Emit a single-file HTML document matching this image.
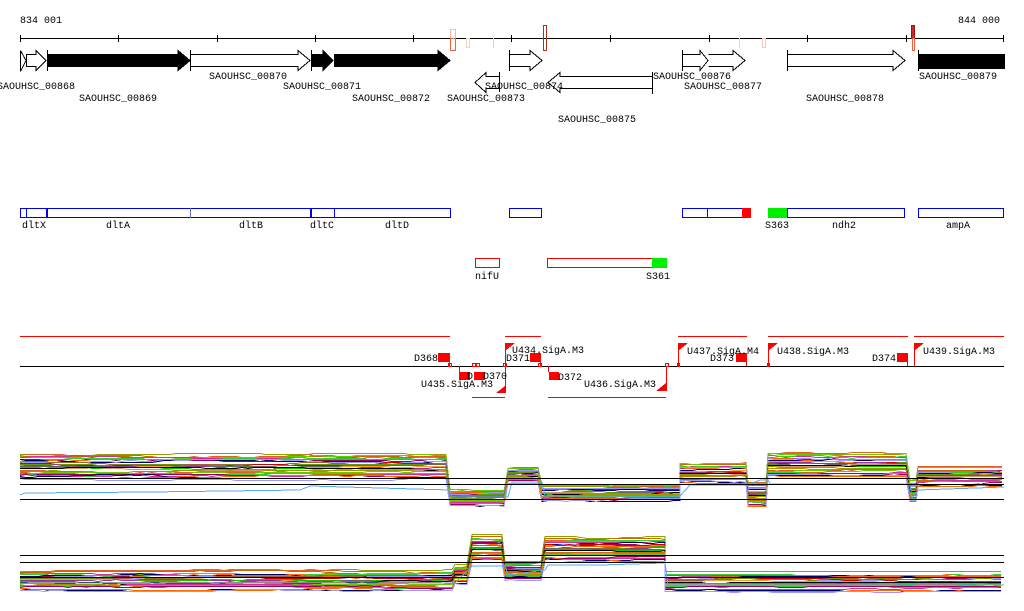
<!DOCTYPE html>
<html><head><meta charset="utf-8"><style>
html,body{margin:0;padding:0;background:#fff;width:1024px;height:611px;overflow:hidden}
svg text{font-family:"Liberation Mono",monospace;font-size:10px;fill:#000}
</style></head><body>
<svg id="s" width="1024" height="611" viewBox="0 0 1024 611" xmlns="http://www.w3.org/2000/svg" shape-rendering="crispEdges">
<rect width="1024" height="611" fill="#fff"/>
<text x="20" y="23">834 001</text>
<text x="958" y="23">844 000</text>
<line x1="20" y1="38.5" x2="1004" y2="38.5" stroke="#000"/>
<g stroke="#000">
<line x1="20.5" y1="35" x2="20.5" y2="42"/><line x1="118.5" y1="35" x2="118.5" y2="42"/><line x1="217.5" y1="35" x2="217.5" y2="42"/><line x1="315.5" y1="35" x2="315.5" y2="42"/><line x1="413.5" y1="35" x2="413.5" y2="42"/><line x1="511.5" y1="35" x2="511.5" y2="42"/><line x1="610.5" y1="35" x2="610.5" y2="42"/><line x1="709.5" y1="35" x2="709.5" y2="42"/><line x1="807.5" y1="35" x2="807.5" y2="42"/><line x1="906.5" y1="35" x2="906.5" y2="42"/><line x1="1003.5" y1="35" x2="1003.5" y2="42"/>
</g>
<g fill="none">
<rect x="450.5" y="29.5" width="5" height="21" stroke="#f7b9a8"/>
<rect x="450.5" y="38.5" width="5" height="12" stroke="#f06040"/>
<rect x="466.5" y="38.5" width="3" height="9" stroke="#f8d0c0"/>
<line x1="493.5" y1="38" x2="493.5" y2="48" stroke="#f8c8b8"/>
<rect x="543.5" y="25.5" width="3" height="25" stroke="#b03020"/>
<line x1="739.5" y1="38" x2="739.5" y2="48" stroke="#f8d0c0"/>
<rect x="762.5" y="38.5" width="3" height="9" stroke="#f8c8b8"/>
<rect x="911.5" y="25.5" width="3" height="13" stroke="#a01010" fill="#c03030"/>
<rect x="912.5" y="38.5" width="2" height="12" stroke="#f06040"/>
</g>
<g stroke="#000" fill="#fff">
<path d="M20.5 50.5 V71.5 M20.5 50.5 L26 60.5 L20.5 71.5"/>
<path d="M26.5 54.5 H36 V50.5 L46 60.5 L36 70.5 V66.5 H26.5 Z"/>
<path d="M47.5 50 V71"/>
<path d="M47.5 54.5 H178 V50.5 L190 60.5 L178 70.5 V66.5 H47.5 Z" fill="#000"/>
<path d="M190.5 50 V71"/>
<path d="M190.5 54.5 H298 V50.5 L310 60.5 L298 70.5 V66.5 H190.5 Z"/>
<path d="M311.5 50 V71"/>
<path d="M311.5 54.5 H323 V50.5 L333 60.5 L323 70.5 V66.5 H311.5 Z" fill="#000"/>
<path d="M334.5 54.5 H438 V50.5 L450 60.5 L438 70.5 V66.5 H334.5 Z" fill="#000"/>
<path d="M499.5 72 V92 M499.5 76.5 H486 V72.5 L475 82.5 L486 92.5 V88.5 H499.5"/>
<path d="M509.5 50 V71 M509.5 54.5 H530 V50.5 L542 60.5 L530 70.5 V66.5 H509.5"/>
<path d="M652.5 72 V94 M652.5 76.5 H560 V72.5 L548 82.5 L560 92.5 V88.5 H652.5"/>
<path d="M682.5 50 V71 M682.5 54.5 H700 V50.5 L708 60.5 L700 70.5 V66.5 H682.5"/>
<path d="M708.5 54.5 H733 V50.5 L745 60.5 L733 70.5 V66.5 H708.5"/>
<path d="M787.5 50 V71 M787.5 54.5 H893 V50.5 L905 60.5 L893 70.5 V66.5 H787.5"/>
<path d="M918.5 50 V71"/>
<rect x="918.5" y="54.5" width="86" height="14" fill="#000"/>
</g>
<text x="-3" y="89">SAOUHSC_00868</text>
<text x="79" y="101">SAOUHSC_00869</text>
<text x="209" y="79">SAOUHSC_00870</text>
<text x="283" y="89">SAOUHSC_00871</text>
<text x="352" y="101">SAOUHSC_00872</text>
<text x="447" y="101">SAOUHSC_00873</text>
<text x="485" y="89">SAOUHSC_00874</text>
<text x="558" y="122">SAOUHSC_00875</text>
<text x="653" y="79">SAOUHSC_00876</text>
<text x="684" y="89">SAOUHSC_00877</text>
<text x="806" y="101">SAOUHSC_00878</text>
<text x="919" y="79">SAOUHSC_00879</text>
<g fill="none" stroke="#0000ee">
<rect x="20.5" y="208.5" width="26" height="9"/><line x1="26.5" y1="208" x2="26.5" y2="218"/>
<rect x="47.5" y="208.5" width="263" height="9"/><line x1="190.5" y1="208" x2="190.5" y2="218" stroke="#6070c0"/>
<rect x="311.5" y="208.5" width="139" height="9"/><line x1="334.5" y1="208" x2="334.5" y2="218"/>
<rect x="509.5" y="208.5" width="32" height="9"/>
<rect x="682.5" y="208.5" width="60" height="9"/><line x1="707.5" y1="208" x2="707.5" y2="218"/>
<rect x="787.5" y="208.5" width="117" height="9"/>
<rect x="918.5" y="208.5" width="85" height="9"/>
</g>
<rect x="742" y="208" width="9" height="10" fill="#ff0000"/>
<rect x="768" y="208" width="19" height="10" fill="#00ee00"/>
<text x="22" y="228">dltX</text><text x="106" y="228">dltA</text><text x="239" y="228">dltB</text><text x="310" y="228">dltC</text><text x="385" y="228">dltD</text>
<text x="765" y="228">S363</text><text x="832" y="228">ndh2</text><text x="946" y="228">ampA</text>
<rect x="475.5" y="258.5" width="24" height="9" fill="none" stroke="#ee0000"/>
<rect x="547.5" y="258.5" width="105" height="9" fill="none" stroke="#ee0000"/>
<rect x="652" y="258" width="15" height="10" fill="#00ee00"/>
<text x="475" y="279">nifU</text><text x="646" y="279">S361</text>
<line x1="20" y1="366.5" x2="1004" y2="366.5" stroke="#000"/>
<g stroke="#ff0000">
<line x1="20" y1="336.5" x2="450" y2="336.5"/><line x1="505" y1="336.5" x2="541" y2="336.5"/><line x1="678" y1="336.5" x2="747" y2="336.5"/><line x1="768" y1="336.5" x2="908" y2="336.5"/><line x1="914" y1="336.5" x2="1004" y2="336.5"/>
<line x1="472" y1="397.5" x2="505" y2="397.5"/><line x1="548" y1="397.5" x2="666" y2="397.5"/>
</g>
<g fill="#ff0000" stroke="none">
<rect x="438" y="353" width="11" height="9"/><rect x="459" y="372" width="11" height="8"/><rect x="474" y="372" width="11" height="8"/>
<rect x="530" y="353" width="10" height="9"/><rect x="549" y="372" width="10" height="8"/><rect x="736" y="353" width="10" height="9"/><rect x="897" y="353" width="10" height="9"/>
<path d="M505 343 H515 L505 351Z"/><path d="M678 343 H688 L678 351Z"/><path d="M768 343 H778 L768 351Z"/><path d="M914 343 H924 L914 351Z"/>
<path d="M505 393 H496 L505 386Z"/><path d="M666 391 H656 L666 383Z"/>
<rect x="677" y="363" width="3" height="4"/><rect x="767" y="363" width="3" height="4"/>
</g>
<g stroke="#ff0000" fill="none">
<line x1="449.5" y1="353" x2="449.5" y2="366"/><line x1="459.5" y1="366" x2="459.5" y2="372"/><line x1="505.5" y1="343" x2="505.5" y2="393"/><line x1="540.5" y1="353" x2="540.5" y2="366"/><line x1="548.5" y1="366" x2="548.5" y2="372"/><line x1="666.5" y1="366" x2="666.5" y2="391"/><line x1="678.5" y1="343" x2="678.5" y2="366"/><line x1="746.5" y1="353" x2="746.5" y2="366"/><line x1="768.5" y1="343" x2="768.5" y2="366"/><line x1="907.5" y1="353" x2="907.5" y2="366"/><line x1="914.5" y1="343" x2="914.5" y2="366"/>
<rect x="448.5" y="363.5" width="3" height="3"/><rect x="472.5" y="363.5" width="3" height="3"/><rect x="476.5" y="363.5" width="3" height="3"/><rect x="503.5" y="363.5" width="3" height="3"/><rect x="538.5" y="363.5" width="3" height="3"/><rect x="665.5" y="363.5" width="3" height="3"/>
</g>
<text x="414" y="361">D368</text><text x="421" y="387">U435.SigA.M3</text><text x="467" y="379">D</text><text x="483" y="379">D370</text>
<text x="512" y="353">U434.SigA.M3</text><text x="506" y="361">D371</text><text x="558" y="380">D372</text><text x="584" y="387">U436.SigA.M3</text>
<text x="687" y="354">U437.SigA.M4</text><text x="710" y="361">D373</text><text x="777" y="354">U438.SigA.M3</text><text x="872" y="361">D374</text><text x="923" y="354">U439.SigA.M3</text>
<g id="charts" fill="none" stroke-width="1"></g>
<g stroke="#000">
<line x1="20" y1="478.5" x2="1004" y2="478.5"/><line x1="20" y1="484.5" x2="1004" y2="484.5"/><line x1="20" y1="499.5" x2="1004" y2="499.5"/>
<line x1="20" y1="555.5" x2="1004" y2="555.5"/><line x1="20" y1="562.5" x2="1004" y2="562.5"/><line x1="20" y1="577.5" x2="1004" y2="577.5"/>
</g>
</svg>
<script>
(function(){
var seed=12345;function r(){seed=(seed*1103515245+12345)&0x7fffffff;return seed/0x7fffffff;}
var pal=["#999900","#e06020","#cc6600","#66cc00","#cc3399","#33cc33","#990066","#000066","#ff6600","#9999ff","#996633","#cc0000","#669900","#ff9933","#993399","#666666","#00cc00","#cc9966","#000000","#bb8800"];
var up=[[20,450,454,478],[450,508,489,505],[508,542,467,482],[542,680,485,500],[680,748,463,482],[748,768,483,505],[768,910,453,475],[910,918,480,500],[918,1004,467,485]];
var lo=[[20,455,571,589],[455,472,566,582],[472,505,536,560],[505,545,563,578],[545,665,538,560],[665,1004,573,590]];
var g=document.getElementById("charts"),ns="http://www.w3.org/2000/svg";
function draw(segs,n){
 for(var i=0;i<n;i++){
  var t=i/(n-1),pts=[],w=0;
  var col=pal[i%pal.length];
  segs.forEach(function(s){
   for(var x=s[0];x<=s[1];x+=6){
    if(r()<0.3){w+=(r()-0.5)*2; if(w>2)w=2; if(w<-2)w=-2;}
    var y=Math.round(s[2]+t*(s[3]-s[2])+w)+0.5;
    pts.push(x+","+y);
   }
  });
  var p=document.createElementNS(ns,"polyline");
  p.setAttribute("points",pts.join(" "));p.setAttribute("stroke",col);
  g.appendChild(p);
 }
}
draw(up,30);draw(lo,30);
var b=document.createElementNS(ns,"polyline");
b.setAttribute("points","20,495 25,493 150,492 300,490 310,486 450,490 452,497 508,497 512,482 542,482 545,496 680,496 690,485 748,485 760,480 768,480 770,484 910,484 912,498 918,490 1004,487");
b.setAttribute("stroke","#55aaee");g.appendChild(b);
var b2=document.createElementNS(ns,"polyline");
b2.setAttribute("points","20,583 455,583 472,566 505,566 508,575 545,570 548,565 600,565 665,563 668,585 1004,585");
b2.setAttribute("stroke","#55aaee");g.appendChild(b2);
})();
</script>
</body></html>
